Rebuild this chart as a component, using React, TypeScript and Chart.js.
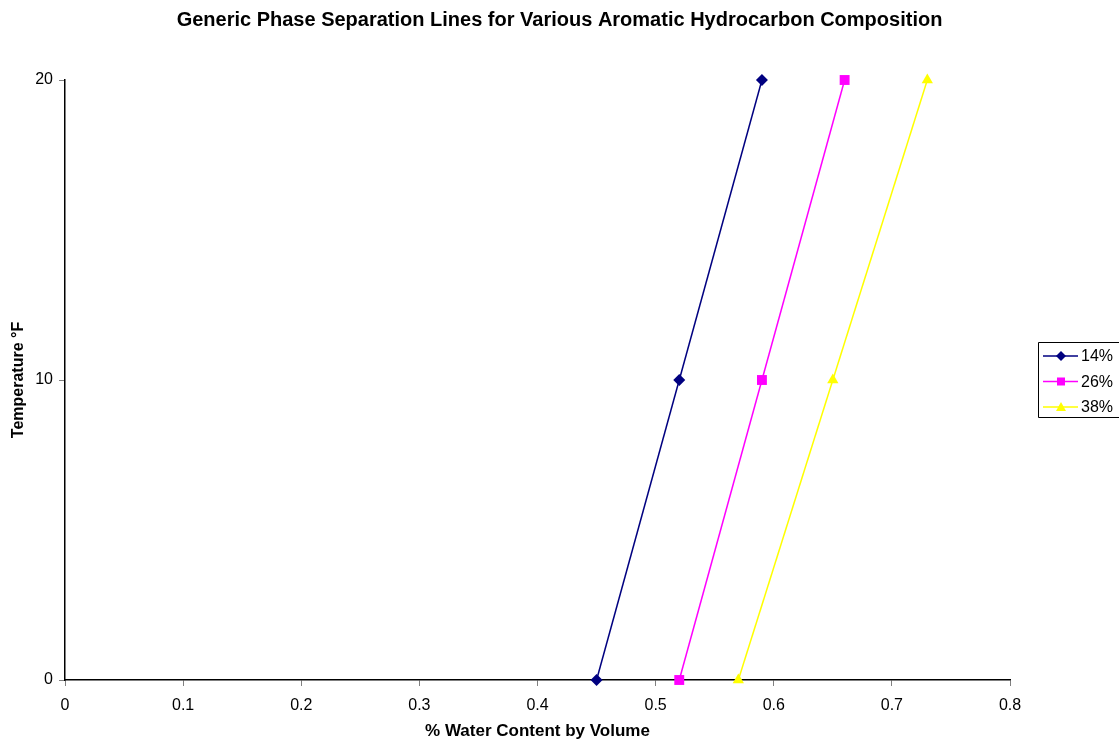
import React, { useEffect, useRef } from "react";
import { Chart, registerables } from "chart.js";

Chart.register(...registerables);

// Aromatic hydrocarbon content of each series
const seriesNames = ["14%", "26%", "38%"];
// % water content by volume at each temperature, per series
const temperatures = [0, 10, 20];
const water14 = [0.45, 0.52, 0.59];
const water26 = [0.52, 0.59, 0.66];
const water38 = [0.57, 0.65, 0.73];
const seriesColors = ["#000080", "#FF00FF", "#FFFF00"];
const seriesMarkers = ["rectRot", "rect", "triangle"];
const chartTitle = "Generic Phase Separation Lines for Various Aromatic Hydrocarbon Composition";

const FONT = "'Liberation Sans', Arial, Helvetica, sans-serif";

const toPoints = (xs: number[]) => xs.map((x, i) => ({ x, y: temperatures[i] }));

// Title centred across the full canvas width
const pageTitle = {
  id: "pageTitle",
  afterDraw(chart: any) {
    const ctx = chart.ctx as CanvasRenderingContext2D;
    ctx.save();
    ctx.font = `bold 20px ${FONT}`;
    ctx.fillStyle = "#000";
    ctx.textAlign = "center";
    ctx.textBaseline = "middle";
    ctx.fillText(chartTitle, chart.width / 2, 20);
    ctx.restore();
  },
};

// Boxed legend drawn at the right of the plot
const boxLegend = {
  id: "boxLegend",
  afterDraw(chart: any) {
    const ctx = chart.ctx as CanvasRenderingContext2D;
    const left = 1038.5;
    const top = 342.5;
    const bottom = 417.5;
    ctx.save();
    ctx.strokeStyle = "#000";
    ctx.lineWidth = 1;
    ctx.beginPath();
    ctx.moveTo(chart.width + 2, top);
    ctx.lineTo(left, top);
    ctx.lineTo(left, bottom);
    ctx.lineTo(chart.width + 2, bottom);
    ctx.stroke();
    ctx.font = `16px ${FONT}`;
    ctx.textBaseline = "middle";
    ctx.textAlign = "left";
    chart.data.datasets.forEach((ds: any, i: number) => {
      const y = 356 + i * 25.5;
      ctx.strokeStyle = ds.borderColor;
      ctx.lineWidth = 1.5;
      ctx.beginPath();
      ctx.moveTo(1043, y);
      ctx.lineTo(1078, y);
      ctx.stroke();
      ctx.fillStyle = ds.backgroundColor;
      const marker = ds.pointStyle;
      ctx.beginPath();
      if (marker === "rectRot") {
        ctx.moveTo(1061, y - 5);
        ctx.lineTo(1066, y);
        ctx.lineTo(1061, y + 5);
        ctx.lineTo(1056, y);
        ctx.closePath();
      } else if (marker === "rect") {
        ctx.rect(1057, y - 4, 8, 8);
      } else {
        ctx.moveTo(1061, y - 5);
        ctx.lineTo(1066, y + 4);
        ctx.lineTo(1056, y + 4);
        ctx.closePath();
      }
      ctx.fill();
      ctx.fillStyle = "#000";
      ctx.fillText(ds.label, 1081, y + 1);
    });
    ctx.restore();
  },
};

export default function App() {
  const canvasRef = useRef<HTMLCanvasElement | null>(null);

  useEffect(() => {
    document.body.style.margin = "0";
    const canvas = canvasRef.current;
    if (!canvas) return;
    const seriesValues = [water14, water26, water38];
    const markerRadius = [6, 7, 6.5];
    const chart = new Chart(canvas, {
      type: "scatter",
      data: {
        datasets: seriesNames.map((name, i) => ({
          label: name,
          data: toPoints(seriesValues[i]),
          showLine: true,
          clip: false as any,
          borderColor: seriesColors[i],
          backgroundColor: seriesColors[i],
          borderWidth: 1.5,
          pointStyle: seriesMarkers[i] as any,
          pointRadius: markerRadius[i],
          pointBorderWidth: 0,
        })),
      },
      options: {
        animation: false,
        responsive: false,
        layout: { padding: { left: 0, right: 109, top: 80, bottom: 0 } },
        plugins: {
          legend: { display: false },
          tooltip: { enabled: false },
          title: { display: false },
        },
        scales: {
          x: {
            type: "linear",
            min: 0,
            max: 0.8,
            afterFit: (s: any) => {
              s.height = 62;
            },
            ticks: {
              stepSize: 0.1,
              color: "#000",
              padding: 10,
              font: { family: FONT, size: 16 },
              callback: (v: any) => String(Number(Number(v).toFixed(1))),
            },
            grid: {
              drawOnChartArea: false,
              drawTicks: true,
              tickLength: 6,
              color: "#808080",
            },
            border: { display: true, color: "#000", width: 1.5 },
            title: {
              display: true,
              text: "% Water Content by Volume",
              color: "#000",
              font: { family: FONT, size: 17, weight: "bold" },
              padding: { top: 0, bottom: 0 },
            },
          },
          y: {
            type: "linear",
            min: 0,
            max: 20,
            afterFit: (s: any) => {
              s.width = 65;
            },
            ticks: {
              stepSize: 10,
              color: "#000",
              padding: 6,
              font: { family: FONT, size: 16 },
            },
            grid: {
              drawOnChartArea: false,
              drawTicks: true,
              tickLength: 6,
              color: "#808080",
            },
            border: { display: true, color: "#000", width: 1.5 },
            title: {
              display: true,
              text: "Temperature °F",
              color: "#000",
              font: { family: FONT, size: 16, weight: "bold" },
              padding: { top: 9, bottom: 0 },
            },
          },
        },
      },
      plugins: [pageTitle, boxLegend],
    });
    return () => chart.destroy();
  }, []);

  return <canvas ref={canvasRef} width={1119} height={742} style={{ display: "block" }} />;
}
